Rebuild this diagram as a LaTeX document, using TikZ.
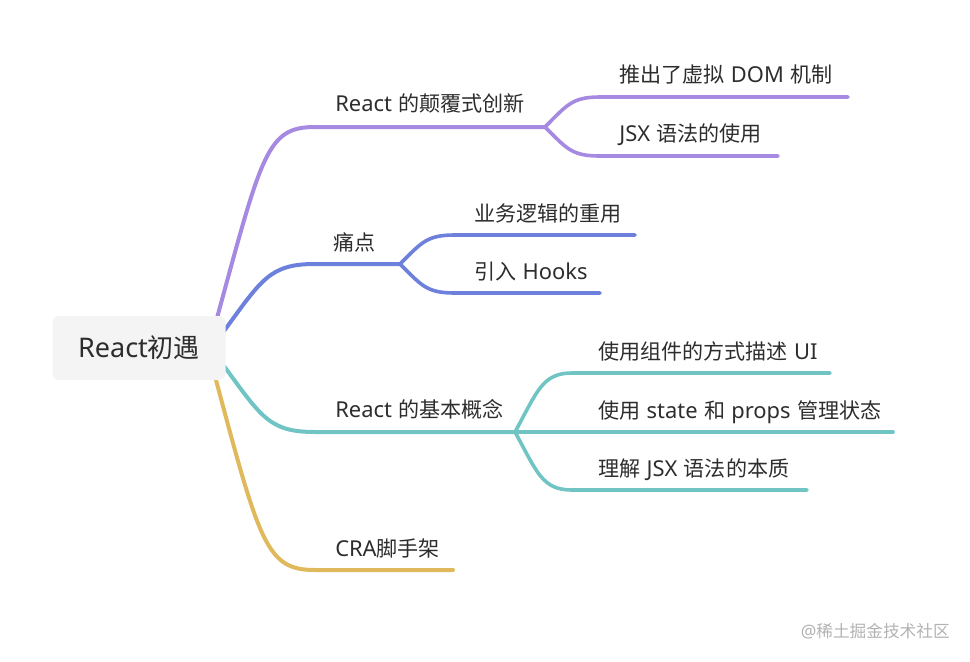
\documentclass[tikz,border=0pt]{standalone}
\usepackage{fontspec}
\setmainfont{Noto Sans CJK SC}
\newfontfamily\lat[Scale=1.04]{Noto Sans}
\newcommand\gp{\hspace{0.3em}}
\definecolor{cpur}{RGB}{166,137,225}
\definecolor{cblu}{RGB}{108,128,220}
\definecolor{ctea}{RGB}{112,197,196}
\definecolor{cyel}{RGB}{224,185,92}
\definecolor{txt}{RGB}{45,45,45}
\definecolor{rootbg}{RGB}{244,244,244}
\definecolor{wm}{RGB}{178,178,178}
\begin{document}
\begin{tikzpicture}[x=0.75pt,y=-0.75pt,
  br/.style={line width=3pt,line cap=round},
  sb/.style={line width=2.7pt,line cap=round},
  lbl/.style={anchor=west,inner sep=0pt,text height=0.88em,text depth=0.12em,
    font=\fontsize{15.8}{18}\selectfont,text=txt},
  rootbox/.style={fill=rootbg,rounded corners=5pt,minimum width=173pt*0.75,
    minimum height=64*0.75pt,inner sep=0pt,text=txt,
    font=\fontsize{19.5}{22}\selectfont}]
\useasboundingbox (0,0) rectangle (970,661);

% coordinates of branch starts and ends
\coordinate (p0) at (217,318);
\coordinate (p1) at (315,127);
\coordinate (pj) at (545,127);
\coordinate (pa) at (600,97);
\coordinate (paE) at (848,97);
\coordinate (pb) at (600,156);
\coordinate (pbE) at (778,156);

\coordinate (b0) at (224,331);
\coordinate (b1) at (315,264);
\coordinate (bj) at (400,264);
\coordinate (ba) at (455,235);
\coordinate (baE) at (635,235);
\coordinate (bb) at (455,293);
\coordinate (bbE) at (600,293);

\coordinate (t0) at (224,366);
\coordinate (t1) at (315,432);
\coordinate (tj) at (515,432);
\coordinate (ta) at (572,373);
\coordinate (taE) at (830,373);
\coordinate (tbE) at (893,432);
\coordinate (tc) at (572,490);
\coordinate (tcE) at (807,490);

\coordinate (y0) at (216,380);
\coordinate (y1) at (315,570);
\coordinate (yE) at (453,570);

% purple branch
\draw[br,cpur] (p0) .. controls +(45,-165) and +(-48,0) .. (p1) -- (pj);
\draw[sb,cpur] (pj) .. controls +(22,-22) and +(-28,0) .. (pa) -- (paE);
\draw[sb,cpur] (pj) .. controls +(22,22) and +(-28,0) .. (pb) -- (pbE);
% blue branch
\draw[br,cblu] (b0) .. controls +(38,-52) and +(-45,0) .. (b1) -- (bj);
\draw[sb,cblu] (bj) .. controls +(22,-22) and +(-28,0) .. (ba) -- (baE);
\draw[sb,cblu] (bj) .. controls +(22,22) and +(-28,0) .. (bb) -- (bbE);
% teal branch
\draw[br,ctea] (t0) .. controls +(38,52) and +(-45,0) .. (t1) -- (tj);
\draw[sb,ctea] (tj) .. controls +(22,-40) and +(-30,0) .. (ta) -- (taE);
\draw[sb,ctea] (tj) -- (tbE);
\draw[sb,ctea] (tj) .. controls +(22,40) and +(-30,0) .. (tc) -- (tcE);
% yellow branch
\draw[br,cyel] (y0) .. controls +(44,165) and +(-48,0) .. (y1) -- (yE);

% root
\node[rootbox] (root) at (139,348) {{\lat React}初遇};

% labels
\node[lbl] (l1) at (335,106) {{\lat React}\gp 的颠覆式创新};
\node[lbl] (l11) at (619,77) {推出了虚拟\gp{\lat DOM}\gp 机制};
\node[lbl] (l12) at (619,136) {{\lat JSX}\gp 语法的使用};
\node[lbl] (l2) at (333,245) {痛点};
\node[lbl] (l21) at (474,216) {业务逻辑的重用};
\node[lbl] (l22) at (474,274) {引入\gp{\lat Hooks}};
\node[lbl] (l3) at (335,412) {{\lat React}\gp 的基本概念};
\node[lbl] (l31) at (598,354) {使用组件的方式描述\gp{\lat UI}};
\node[lbl] (l32) at (598,413) {使用\gp{\lat state}\gp 和\gp{\lat props}\gp 管理状态};
\node[lbl] (l33) at (598,471) {理解\gp{\lat JSX}\gp 语法的本质};
\node[lbl] (l4) at (335,551) {{\lat CRA}脚手架};

% watermark
\node[anchor=east,inner sep=0pt,text=wm,font=\fontsize{12.5}{14}\selectfont] (wmk) at (950,631) {{\lat @}稀土掘金技术社区};
\end{tikzpicture}
\end{document}
